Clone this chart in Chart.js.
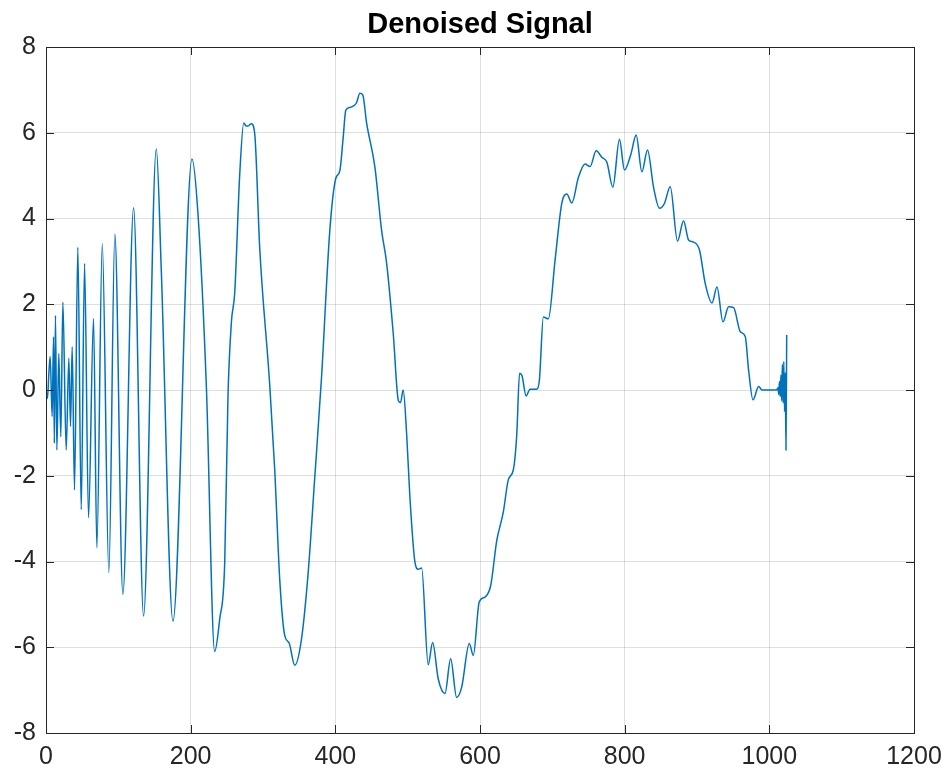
<!DOCTYPE html>
<html>
<head>
<meta charset="utf-8">
<script src="https://cdn.jsdelivr.net/npm/chart.js@4"></script>
<style>
  html, body { margin: 0; padding: 0; background: #fff; }
  #wrap { width: 945px; height: 776px; }
</style>
</head>
<body>
<div id="wrap"><canvas id="c" width="945" height="776"></canvas></div>
<script>
// sample index and denoised value
const sampleIdx = [
  0, 2, 4, 5.8, 8.5, 10.4, 11.5, 13.1, 15, 17.7, 20.5, 23.3, 27.9, 31.6, 33.9, 36.2,
  39.4, 44, 48.7, 53.3, 58.8, 65.7, 70.3, 77.8, 86.9, 95.2, 106.3, 121.1, 134.9, 152.5,
  159.4, 175.5, 201.8, 210.1, 221.7, 233.2, 240.1, 247.1, 251.6, 256.3, 260.9, 267.8,
  273.4, 276.5, 279.3, 284, 288.6, 295.5, 309.3, 316.2, 323.2, 330.1, 336.1, 343.9,
  353.2, 362.4, 371.6, 380.9, 392.4, 400.7, 406.2, 410.8, 414.5, 420.1, 424.6, 429.3,
  433.9, 438, 443.2, 454.7, 463.9, 470.9, 480, 487.2, 490.2, 493.8, 498.5, 503.1, 510,
  514.6, 519.3, 528.4, 534.5, 542.3, 551.6, 559.4, 567.7, 574.7, 585.2, 590.7, 599,
  606.9, 614.8, 623.1, 632.2, 639.2, 646.1, 650.8, 654.7, 658.1, 663.7, 669.2, 678.5,
  682.1, 687.6, 694.5, 703.8, 713.1, 720, 726.9, 736.1, 745.3, 752.2, 760.6, 768.4,
  775.4, 783.7, 792.8, 799.7, 808.6, 815.9, 823.8, 831.6, 839.9, 848.2, 854.7, 863,
  873.1, 881.4, 888.3, 895.2, 903.5, 911.4, 920.7, 927.6, 935.9, 943.7, 950.6, 959.9,
  966.8, 971.3, 977.4, 985.2, 989.9, 1010, 1012, 1013, 1014, 1015, 1016, 1017, 1018,
  1019, 1020, 1021, 1022, 1023, 1024
];
const signal = [
  0, -0.2, 0.4, 0.78, -0.62, 1.24, -1.24, 1.74, -1.4, 0.85, -1.09, 2.05, -1.4, 0.74, -0.85, 1.01,
  -2.33, 3.33, -2.79, 2.95, -2.98, 1.67, -3.68, 3.41, -4.26, 3.64, -4.77, 4.25, -5.27, 5.62,
  2.79, -5.39, 5.39, 4.11, 0.08, -6.1, -5.35, -4.01, -0.14, 1.58, 2.27, 5.02,
  6.23, 6.16, 6.16, 6.21, 5.97, 3.3, 0.12, -1.86, -4.44, -5.73, -5.9, -6.42,
  -5.81, -4.27, -2.03, 0.29, 3.73, 4.94, 5.11, 5.88, 6.53, 6.59, 6.62, 6.7,
  6.92, 6.88, 6.23, 5.2, 3.73, 2.96, 1.33, -0.25, -0.29, 0, -1.0, -2.5, -4.01,
  -4.18, -4.15, -6.41, -5.89, -6.74, -7.08, -6.27, -7.17, -6.93, -5.91, -6.19, -4.94,
  -4.83, -4.56, -3.52, -2.85, -2.09, -1.86, -1.05, 0.39, 0.33, -0.14, 0.02, 0.02,
  0.23, 1.7, 1.66, 3.03, 4.36, 4.57, 4.36, 4.96, 5.27, 5.21, 5.58, 5.43,
  5.31, 4.73, 5.85, 5.13, 5.5, 5.95, 5.09, 5.6, 4.73, 4.24, 4.34, 4.74,
  3.47, 3.95, 3.5, 3.45, 3.26, 2.48, 2.03, 2.4, 1.59, 1.94, 1.92, 1.36,
  1.24, 0.47, -0.23, 0.08, 0, 0, 0.05, -0.1, 0.2, -0.15, 0.35, -0.25, 0.6,
  -0.3, 0.66, -0.5, 0.4, -1.4, 1.28
];
const xTicks = [0, 200, 400, 600, 800, 1000, 1200];
const yTicks = [-8, -6, -4, -2, 0, 2, 4, 6, 8];
const title = 'Denoised Signal';

const INK = '#262626';
const FONT = 'Arial, "Liberation Sans", Helvetica, sans-serif';

// box round the axes, ticks pointing inward on all four sides, title over the axes
const boxTicks = {
  id: 'boxTicks',
  afterDraw(chart) {
    const { ctx, chartArea: a, scales } = chart;
    const len = 8;
    ctx.save();
    ctx.strokeStyle = INK;
    ctx.lineWidth = 1;
    ctx.beginPath();
    xTicks.forEach(v => {
      const px = Math.round(scales.x.getPixelForValue(v)) + 0.5;
      ctx.moveTo(px, a.bottom); ctx.lineTo(px, a.bottom - len);
      ctx.moveTo(px, a.top); ctx.lineTo(px, a.top + len);
    });
    yTicks.forEach(v => {
      const py = Math.round(scales.y.getPixelForValue(v)) + 0.5;
      ctx.moveTo(a.left, py); ctx.lineTo(a.left + len, py);
      ctx.moveTo(a.right, py); ctx.lineTo(a.right - len, py);
    });
    ctx.stroke();
    ctx.strokeRect(Math.round(a.left) + 0.5, Math.round(a.top) + 0.5,
      Math.round(a.right - a.left), Math.round(a.bottom - a.top));

    ctx.fillStyle = '#000';
    ctx.font = 'bold 29px ' + FONT;
    ctx.textAlign = 'center';
    ctx.textBaseline = 'alphabetic';
    ctx.fillText(title, (a.left + a.right) / 2, 33);
    ctx.restore();
  }
};

const grid = { color: 'rgba(38,38,38,0.15)', drawTicks: false, lineWidth: 1 };

new Chart(document.getElementById('c').getContext('2d'), {
  type: 'scatter',
  data: {
    datasets: [{
      data: sampleIdx.map((x, i) => ({ x, y: signal[i] })),
      showLine: true,
      borderColor: '#0072BD',
      borderWidth: 1.5,
      pointRadius: 0,
      cubicInterpolationMode: 'monotone',
      fill: false,
    }]
  },
  options: {
    responsive: false,
    animation: false,
    devicePixelRatio: 1,
    layout: { padding: { left: 0, right: 31, top: 47, bottom: 0 } },
    plugins: {
      legend: { display: false },
      tooltip: { enabled: false },
      title: { display: false },
    },
    scales: {
      x: {
        type: 'linear', min: 0, max: 1200,
        afterBuildTicks: s => { s.ticks = xTicks.map(v => ({ value: v })); },
        afterFit: s => { s.height = 43; s.paddingLeft = 0; s.paddingRight = 0; },
        grid, border: { display: false },
        ticks: { color: INK, padding: 9, maxRotation: 0, callback: v => String(v), font: { family: FONT, size: 25 } },
      },
      y: {
        type: 'linear', min: -8, max: 8,
        afterBuildTicks: s => { s.ticks = yTicks.map(v => ({ value: v })); },
        afterFit: s => { s.width = 46; s.paddingTop = 0; s.paddingBottom = 0; },
        grid, border: { display: false },
        ticks: { color: INK, padding: 10, callback: v => String(v), font: { family: FONT, size: 25 } },
      },
    },
  },
  plugins: [boxTicks],
});
</script>
</body>
</html>
